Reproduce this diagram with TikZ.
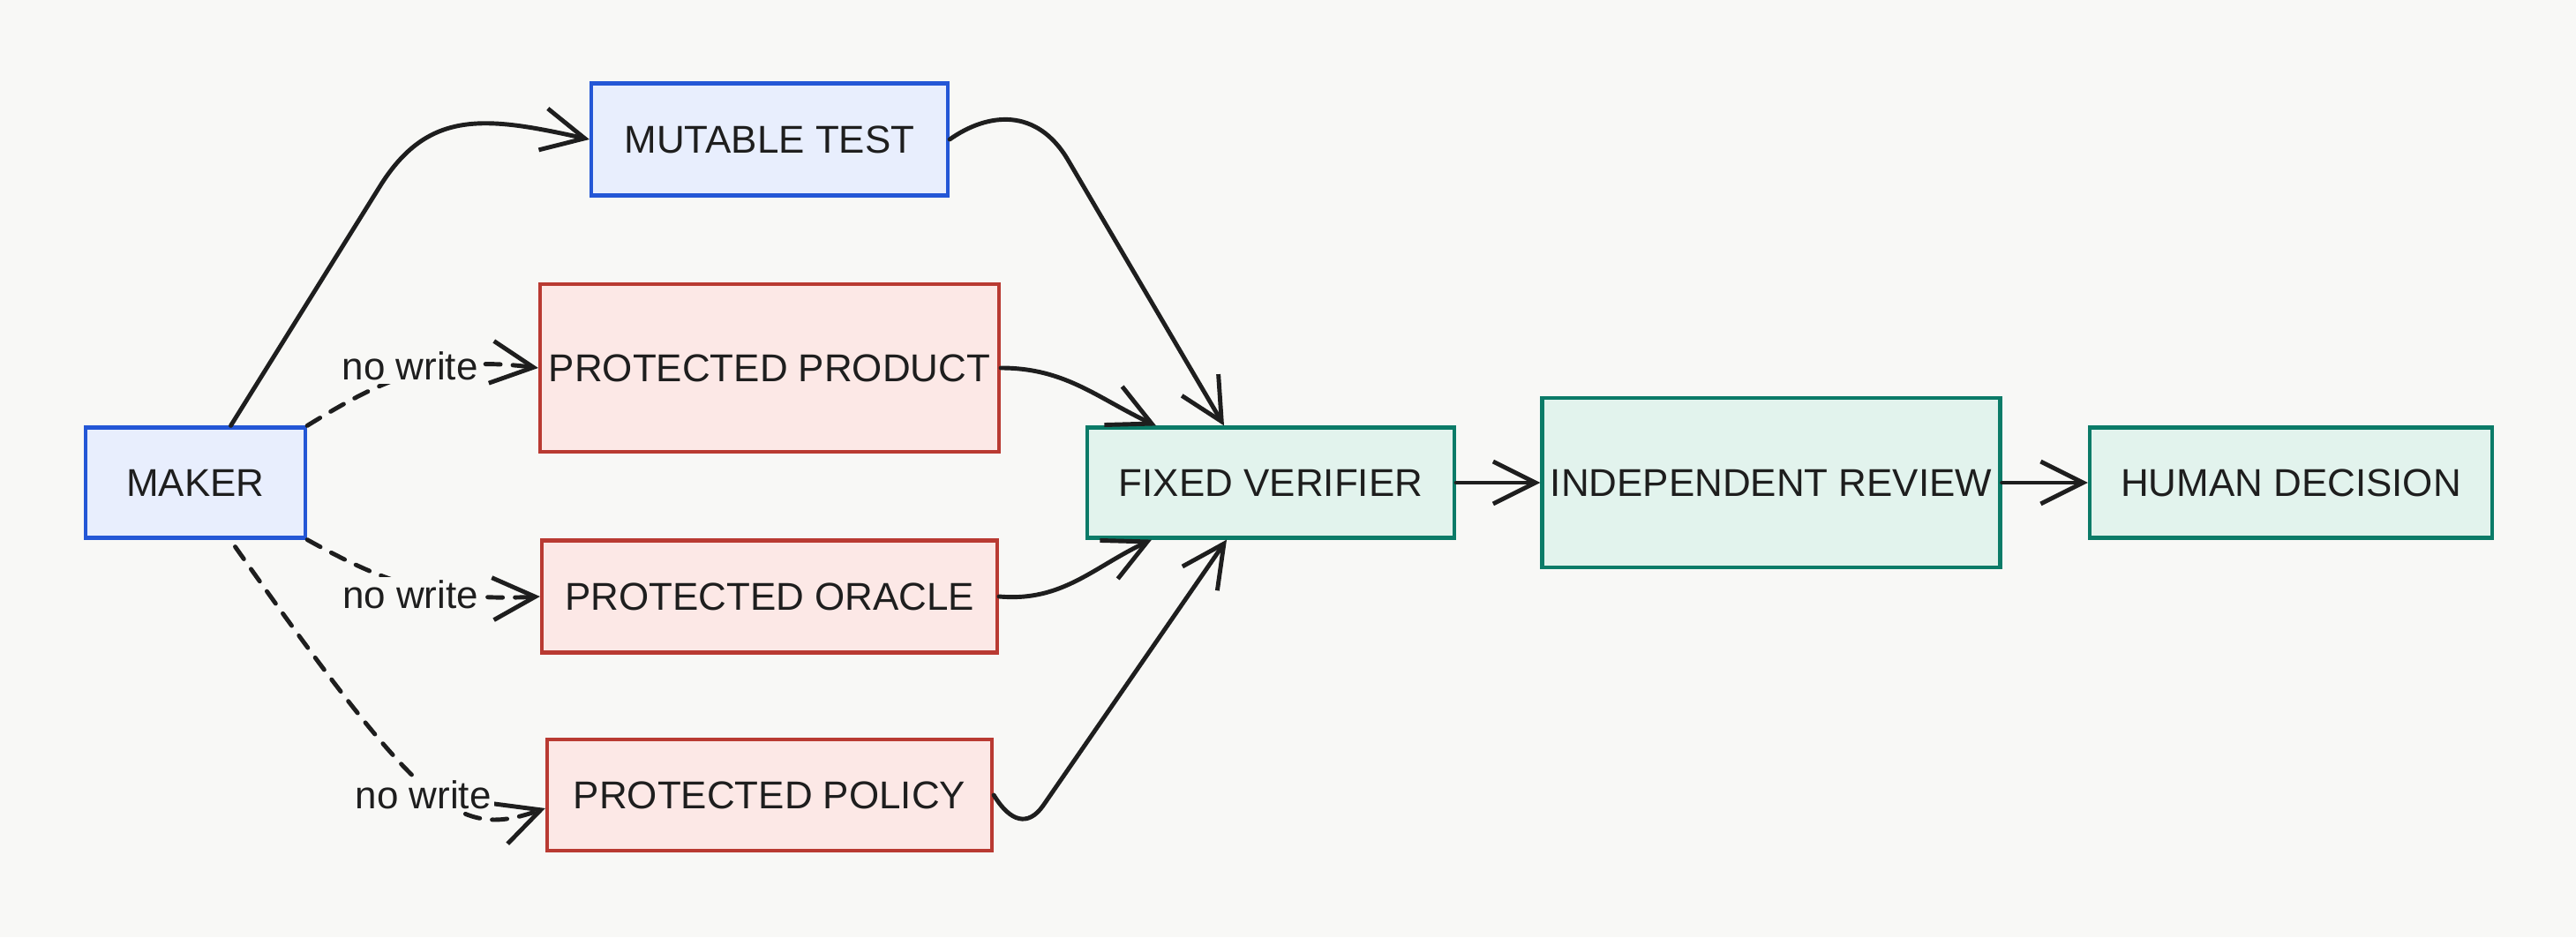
\documentclass[tikz,border=0pt]{standalone}
\usepackage{fontspec}
\setmainfont{Liberation Sans}
\usepackage{tikz}
\usetikzlibrary{arrows.meta}
\definecolor{bgcol}{RGB}{248, 248, 246}
\definecolor{ink}{RGB}{30, 30, 30}
\definecolor{mblue}{RGB}{36, 87, 214}
\definecolor{mbluefill}{RGB}{232, 238, 253}
\definecolor{mred}{RGB}{185, 58, 50}
\definecolor{mredfill}{RGB}{252, 232, 230}
\definecolor{mgreen}{RGB}{11, 123, 104}
\definecolor{mgreenfill}{RGB}{226, 243, 237}
\tikzset{box/.style = {draw, line width = 1.2pt, inner sep = 0, text = ink,
                       font = \fontsize{12.5}{15}\selectfont}}
\tikzset{bluebox/.style = {box, draw = mblue, fill = mbluefill}}
\tikzset{redbox/.style = {box, draw = mred, fill = mredfill}}
\tikzset{greenbox/.style = {box, draw = mgreen, fill = mgreenfill}}
\tikzset{flow/.style = {draw = ink, line width = 1.4pt, line cap = round,
                        -{Straight Barb[length = 4.8mm, width = 4.8mm]}}}
\tikzset{nowrite/.style = {flow, dash pattern = on 1.7mm off 1.4mm}}
\tikzset{tag/.style = {fill = bgcol, text = ink, inner sep = 1pt,
                       font = \fontsize{12.5}{15}\selectfont}}

\begin{document}
\begin{tikzpicture}
      \useasboundingbox (0, 0) rectangle (29.19, 10.62);
      \fill [bgcol] (0, 0) rectangle (29.19, 10.62);

      \node [bluebox, minimum width = 2.49cm, minimum height = 1.25cm] (maker) at (2.215, 5.15) {MAKER};
      \node [bluebox, minimum width = 4.04cm, minimum height = 1.27cm] (mut) at (8.72, 9.04) {MUTABLE TEST};
      \node [redbox, minimum width = 5.20cm, minimum height = 1.90cm] (pp) at (8.72, 6.45) {PROTECTED PRODUCT};
      \node [redbox, minimum width = 5.16cm, minimum height = 1.27cm] (po) at (8.72, 3.86) {PROTECTED ORACLE};
      \node [redbox, minimum width = 5.04cm, minimum height = 1.26cm] (ppol) at (8.72, 1.61) {PROTECTED POLICY};
      \node [greenbox, minimum width = 4.16cm, minimum height = 1.25cm] (fv) at (14.40, 5.15) {FIXED VERIFIER};
      \node [greenbox, minimum width = 5.19cm, minimum height = 1.92cm] (ir) at (20.07, 5.15) {INDEPENDENT REVIEW};
      \node [greenbox, minimum width = 4.56cm, minimum height = 1.25cm] (hd) at (25.96, 5.15) {HUMAN DECISION};

      \draw [flow] ([xshift = 4mm]maker.north) -- (4.3, 8.5)
        .. controls (4.85, 9.39) and (5.5, 9.3) .. (mut.west);
      \draw [flow] (mut.east) .. controls (11.2, 9.35) and (11.75, 9.4) .. (12.1, 8.81)
        -- ([xshift = -5.3mm]fv.north);
      \draw [flow] (pp.east) to [out = 0, in = 155] ([xshift = -13mm]fv.north);
      \draw [flow] (po.east) to [out = -5, in = 205] ([xshift = -13.5mm]fv.south);
      \draw [flow] (ppol.east) .. controls (11.45, 1.3) and (11.65, 1.25) .. (11.82, 1.49)
        -- ([xshift = -5mm]fv.south);
      \draw [flow] (fv.east) -- (ir.west);
      \draw [flow] (ir.east) -- (hd.west);

      \draw [nowrite] (maker.north east) .. controls (4.3, 6.3) and (4.9, 6.6) .. (pp.west)
        node [tag, pos = 0.5, yshift = 1mm] {no write};
      \draw [nowrite] (maker.south east) .. controls (4.3, 4.05) and (4.9, 3.8) .. (po.west)
        node [tag, pos = 0.5, yshift = -1.1mm] {no write};
      \draw [nowrite] ([xshift = 4.5mm, yshift = -0.8mm]maker.south) .. controls (4.83, 1.36) and (5.2, 1.12)
        .. ([yshift = -1.5mm]ppol.west) node [tag, pos = 0.5, xshift = -0.7mm, yshift = -0.5mm] {no write};
\end{tikzpicture}
\end{document}
